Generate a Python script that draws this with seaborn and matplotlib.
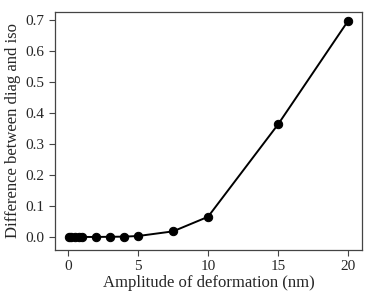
import numpy as np
import pandas as pd
import matplotlib
matplotlib.use('Agg')
import matplotlib.pyplot as plt
import seaborn as sns

# values
amplitude = [0.1, 0.25, 0.5, 0.75, 1.0, 2, 3, 4, 5, 7.5, 10, 15, 20]
difference = [0.0, 0.0, 0.0, 0.0, 0.0, 0.0, 0.0005, 0.001, 0.003, 0.018, 0.065, 0.363, 0.697]

df = pd.DataFrame({'amp': amplitude, 'diff': difference})

sns.set_style('ticks')
plt.rcParams['font.family'] = ['Liberation Serif', 'DejaVu Serif']

fig, ax = plt.subplots(figsize=(3.74, 2.99), dpi=100)
sns.lineplot(data=df, x='amp', y='diff', color='black', marker='o',
             markersize=6, markeredgecolor='black', linewidth=1.4, ax=ax)

ax.set_xlim(-0.93, 21.0)
ax.set_ylim(-0.042, 0.726)
ax.set_xticks([0, 5, 10, 15, 20])
ax.set_yticks(np.arange(0, 0.71, 0.1))
ax.set_xlabel('Amplitude of deformation (nm)', fontsize=12, labelpad=1)
ax.set_ylabel('Difference between diag and iso', fontsize=12, labelpad=3)
ax.tick_params(labelsize=11, color='#444444', length=4)
for s in ax.spines.values():
    s.set_color('#444444')
    s.set_linewidth(0.9)

fig.subplots_adjust(left=0.147, right=0.968, top=0.96, bottom=0.164)
fig.savefig('out.png', dpi=100)
